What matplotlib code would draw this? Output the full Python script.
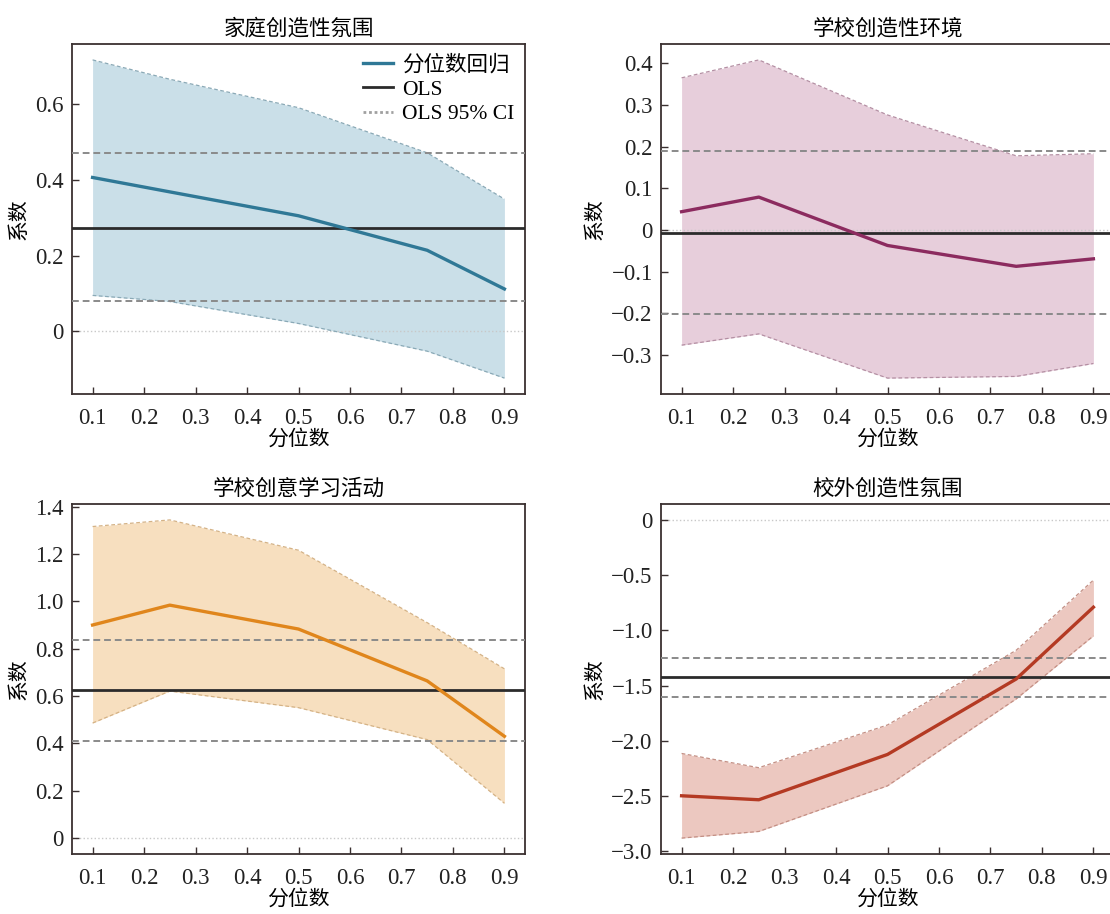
import matplotlib
matplotlib.use("Agg")
import matplotlib.pyplot as plt
from matplotlib.ticker import MultipleLocator, FuncFormatter
from matplotlib.lines import Line2D

plt.rcParams['font.family'] = ['Liberation Serif', 'Noto Sans CJK SC', 'DejaVu Sans']
plt.rcParams['axes.unicode_minus'] = True

quantiles = [0.1, 0.25, 0.5, 0.75, 0.9]

titles = ["家庭创造性氛围", "学校创造性环境", "学校创意学习活动", "校外创造性氛围"]

coef_home = [0.406, 0.368, 0.305, 0.214, 0.112]
upper_home = [0.716, 0.665, 0.590, 0.471, 0.349]
lower_home = [0.095, 0.079, 0.021, -0.052, -0.123]
ols_home = [0.274, 0.079, 0.471]

coef_school = [0.044, 0.079, -0.037, -0.087, -0.069]
upper_school = [0.365, 0.408, 0.276, 0.178, 0.183]
lower_school = [-0.276, -0.249, -0.355, -0.351, -0.320]
ols_school = [-0.006, -0.201, 0.190]

coef_activity = [0.900, 0.984, 0.883, 0.664, 0.430]
upper_activity = [1.316, 1.344, 1.216, 0.910, 0.715]
lower_activity = [0.486, 0.621, 0.551, 0.416, 0.147]
ols_activity = [0.624, 0.412, 0.836]

coef_outside = [-2.497, -2.533, -2.123, -1.440, -0.790]
upper_outside = [-2.114, -2.243, -1.856, -1.180, -0.545]
lower_outside = [-2.880, -2.820, -2.407, -1.620, -1.050]
ols_outside = [-1.425, -1.605, -1.251]

line_colors = ['#2f7896', '#8c2b5f', '#e0861c', '#b43a23']
fill_colors = ['#cadfe8', '#e7cedb', '#f7dfbf', '#ecc8c0']
edge_colors = ['#8aa9b6', '#b48fa3', '#d4b286', '#c38f84']
ytick_steps = [0.2, 0.1, 0.2, 0.5]

panels = [
    (coef_home, upper_home, lower_home, ols_home),
    (coef_school, upper_school, lower_school, ols_school),
    (coef_activity, upper_activity, lower_activity, ols_activity),
    (coef_outside, upper_outside, lower_outside, ols_outside),
]

W, H = 1110, 914
fig = plt.figure(figsize=(W / 100, H / 100), dpi=100)

# axes boxes in pixels: (left, top)
boxes = [(72, 44), (661, 44), (72, 504), (661, 504)]
aw, ah = 453, 350


def yfmt(v, pos):
    if abs(v) < 1e-9:
        return "0"
    s = f"{v:.1f}"
    return s.replace("-", "\u2212")


def xfmt(v, pos):
    return f"{v:.1f}"


for i, (coef, upper, lower, ols) in enumerate(panels):
    l, t = boxes[i]
    ax = fig.add_axes([l / W, (H - t - ah) / H, aw / W, ah / H])
    ax.fill_between(quantiles, lower, upper, color=fill_colors[i], linewidth=0, zorder=1)
    ax.plot(quantiles, upper, color=edge_colors[i], lw=0.9, ls=(0, (3, 2)), zorder=2)
    ax.plot(quantiles, lower, color=edge_colors[i], lw=0.9, ls=(0, (3, 2)), zorder=2)
    ax.axhline(0, color='#c8c8c8', lw=1.0, ls=':', zorder=1.5)
    ax.axhline(ols[1], color='#8a8a8a', lw=1.4, ls=(0, (3.5, 2)), zorder=3)
    ax.axhline(ols[2], color='#8a8a8a', lw=1.4, ls=(0, (3.5, 2)), zorder=3)
    ax.axhline(ols[0], color='#2b2b2b', lw=2.0, zorder=4)
    ax.plot(quantiles, coef, color=line_colors[i], lw=2.4, zorder=5)

    ax.set_title(titles[i], fontsize=15.5, pad=7)
    ax.set_xlabel("分位数", fontsize=15, labelpad=1)
    ax.set_ylabel("系数", fontsize=15, labelpad=4)
    ax.xaxis.set_major_locator(MultipleLocator(0.1))
    ax.yaxis.set_major_locator(MultipleLocator(ytick_steps[i]))
    ax.xaxis.set_major_formatter(FuncFormatter(xfmt))
    ax.yaxis.set_major_formatter(FuncFormatter(yfmt))
    ax.tick_params(axis='both', direction='in', length=5, width=1.0,
                   color='#3a3030', labelsize=16.5, labelcolor='#222222')
    ax.tick_params(axis='x', pad=10)
    ax.tick_params(axis='y', pad=6)
    for sp in ax.spines.values():
        sp.set_color('#3a3030')
        sp.set_linewidth(1.3)

    if i == 0:
        handles = [
            Line2D([], [], color=line_colors[0], lw=2.4),
            Line2D([], [], color='#2b2b2b', lw=2.0),
            Line2D([], [], color='#a0a0a0', lw=2.0, ls=(0, (1, 1))),
        ]
        ax.legend(handles, ["分位数回归", "OLS", "OLS 95% CI"], loc='upper right',
                  frameon=False, fontsize=15.5, handlelength=1.4, handletextpad=0.4,
                  labelspacing=0.2, borderaxespad=0.1)

fig.savefig("out.png", dpi=100)
